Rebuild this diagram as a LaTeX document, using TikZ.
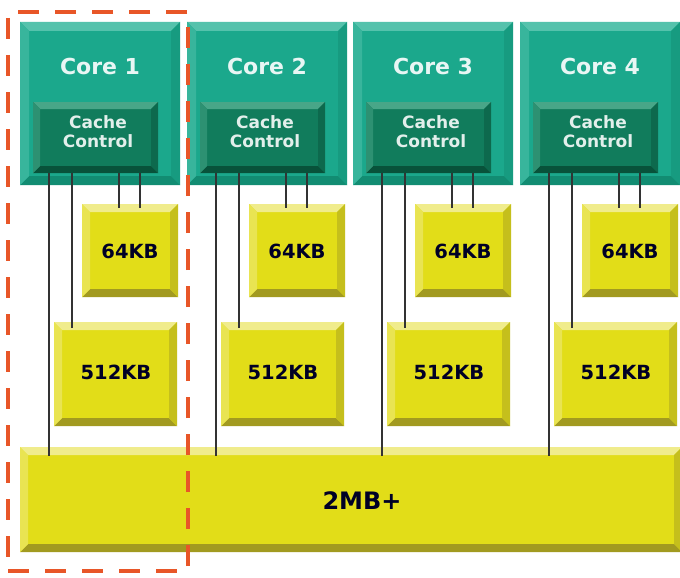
\documentclass[tikz,border=0pt]{standalone}
\usepackage{fontspec}
\setmainfont{DejaVu Sans}
\usetikzlibrary{calc}

\definecolor{coreteal}{RGB}{27,168,140}
\definecolor{corelight}{RGB}{85,194,172}
\definecolor{coredark}{RGB}{18,140,114}
\definecolor{cachegreen}{RGB}{17,124,92}
\definecolor{cachelight}{RGB}{72,166,136}
\definecolor{cachedark}{RGB}{8,82,58}
\definecolor{cacheyel}{RGB}{226,221,24}
\definecolor{cacheyellight}{RGB}{240,236,140}
\definecolor{cacheyeldark}{RGB}{162,154,32}
\definecolor{selorange}{RGB}{232,86,40}

\begin{document}
\begin{tikzpicture}[x=1pt,y=-1pt,
	bevel/.style n args={4}{fill=#1, path picture={
		\fill[#2] (path picture bounding box.north west) -- (path picture bounding box.north east)
			-- ([shift={(-#4,-#4)}]path picture bounding box.north east) -- ([shift={(#4,-#4)}]path picture bounding box.north west) -- cycle;
		\fill[#3] (path picture bounding box.south west) -- (path picture bounding box.south east)
			-- ([shift={(-#4,#4)}]path picture bounding box.south east) -- ([shift={(#4,#4)}]path picture bounding box.south west) -- cycle;
		\fill[#1!50!#2] (path picture bounding box.north west) -- (path picture bounding box.south west)
			-- ([shift={(#4,#4)}]path picture bounding box.south west) -- ([shift={(#4,-#4)}]path picture bounding box.north west) -- cycle;
		\fill[#1!55!#3] (path picture bounding box.north east) -- (path picture bounding box.south east)
			-- ([shift={(-#4,#4)}]path picture bounding box.south east) -- ([shift={(-#4,-#4)}]path picture bounding box.north east) -- cycle;
	}},
	block/.style={anchor=north west, inner sep=0pt, outer sep=0pt},
	corebox/.style={block, bevel={coreteal}{corelight}{coredark}{9pt}, minimum width=160pt, minimum height=163pt},
	ctrlbox/.style={block, bevel={cachegreen}{cachelight}{cachedark}{7pt}, minimum width=125pt, minimum height=71pt},
	membox/.style={block, bevel={cacheyel}{cacheyellight}{cacheyeldark}{8pt}},
	corelbl/.style={text=white!90!coreteal, font=\bfseries\fontsize{22}{26}\selectfont},
	ctrllbl/.style={text=white!88!cachegreen, align=center, font=\bfseries\fontsize{17}{20}\selectfont},
	memlbl/.style={text=black!85!blue, font=\bfseries\fontsize{19.5}{22}\selectfont},
	wire/.style={draw=black!80, line width=1.2pt},
	selbox/.style={block, draw=selorange, line width=4pt, dash pattern=on 21pt off 16pt}
	]
	\useasboundingbox[fill=white] (0,0) rectangle (680,578);

	% one column per core
	\foreach \x [count=\i] in {20,187,353,520} {
		\node[corebox] (core\i) at (\x,22) {};
		\node[corelbl] (corename\i) at (\x+80,66) {Core \i};
		\node[ctrlbox] (ctrl\i) at (\x+13,102) {};
		\node[ctrllbl] (ctrlname\i) at (\x+78,132) {Cache\\[-1pt]Control};
		\node[membox, minimum width=96pt, minimum height=93pt] (l1\i) at (\x+62,204) {};
		\node[memlbl] (l1name\i) at (\x+110,251) {64KB};
		\node[membox, minimum width=123pt, minimum height=104pt] (l2\i) at (\x+34,322) {};
		\node[memlbl] (l2name\i) at (\x+96,372) {512KB};
	}

	% shared cache
	\node[membox, minimum width=662pt, minimum height=105pt] (l3) at (20,447) {};
	\node[memlbl, font=\bfseries\fontsize{24}{28}\selectfont] (l3name) at (362,501) {2MB+};

	% wires from the cache controllers
	\foreach \i in {1,...,4} {
		\coordinate (w1\i) at ([xshift=16pt]ctrl\i.south west);
		\coordinate (w2\i) at ([xshift=39pt]ctrl\i.south west);
		\coordinate (w3\i) at ([xshift=86pt]ctrl\i.south west);
		\coordinate (w4\i) at ([xshift=107pt]ctrl\i.south west);
		\coordinate (e3\i) at ([yshift=-9pt]l3.north);
		\coordinate (e2\i) at ([yshift=-6pt]l2\i.north);
		\coordinate (e1\i) at ([yshift=-4pt]l1\i.north);
		\draw[wire] (w1\i) -- (w1\i |- e3\i);
		\draw[wire] (w2\i) -- (w2\i |- e2\i);
		\draw[wire] (w3\i) -- (w3\i |- e1\i);
		\draw[wire] (w4\i) -- (w4\i |- e1\i);
	}

	% selection around core 1
	\node[selbox, minimum width=180pt, minimum height=559pt] (sel) at (8,12) {};
\end{tikzpicture}
\end{document}
